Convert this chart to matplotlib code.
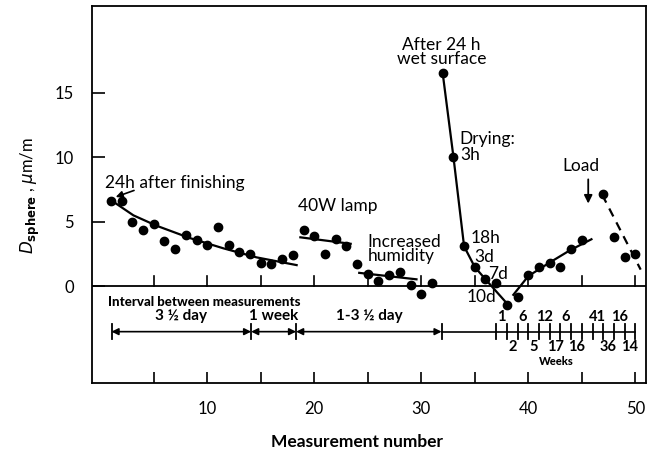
import matplotlib
matplotlib.use("Agg")
import matplotlib.pyplot as plt
import numpy as np

plt.rcParams['font.family'] = ['Lato', 'DejaVu Sans']

# ---- measured data ----
meas_x = [1, 2, 3, 4, 5, 6, 7, 8, 9, 10, 11, 12, 13, 14, 15, 16, 17, 18,
          19, 20, 21, 22, 23, 24, 25, 26, 27, 28, 29, 30, 31,
          32, 33, 34, 35, 36, 37, 38, 39, 40, 41, 42, 43, 44, 45,
          47, 48, 49, 50]
meas_y = [6.6, 6.6, 5.0, 4.4, 4.8, 3.5, 2.9, 4.0, 3.6, 3.2, 4.6, 3.2, 2.7, 2.5, 1.8, 1.7, 2.1, 2.4,
          4.4, 3.9, 2.5, 3.7, 3.1, 1.7, 1.0, 0.45, 0.9, 1.1, 0.1, -0.55, 0.25,
          16.5, 10.05, 3.1, 1.5, 0.55, 0.25, -1.45, -0.8, 0.9, 1.5, 1.85, 1.5, 2.9, 3.6,
          7.15, 3.8, 2.25, 2.5]

# trend curves
finish_x = [1.05, 3.1, 5.25, 8.35, 11.5, 14.6, 18.35]
finish_y = [6.65, 5.5, 4.7, 3.75, 2.95, 2.25, 1.65]
lamp_x = [18.7, 23.4]
lamp_y = [3.8, 3.3]
humid_x = [24.2, 29.55]
humid_y = [1.05, 0.55]
drying_x = [32, 33, 34, 35, 36, 38.2]
drying_y = [16.5, 10.05, 3.1, 1.5, 0.55, -1.5]
recover_x = [38.6, 40.0, 42.0, 43.9, 45.9]
recover_y = [-0.65, 0.8, 1.85, 2.8, 3.65]
load_x = [46.9, 50.5]
load_y = [7.1, 1.3]

# interval bar
interval_bounds = [1.05, 14.1, 18.3, 31.9]
interval_labels = ["3 \u00bd day", "1 week", "1-3 \u00bd day"]
week_ticks = list(range(37, 51))
weeks_top_pos = [37.5, 39.5, 41.5, 43.5, 46.5, 48.5]
weeks_top_lab = ["1", "6", "12", "6", "41", "16"]
weeks_bot_pos = [38.5, 40.5, 42.5, 44.5, 47.5, 49.5]
weeks_bot_lab = ["2", "5", "17", "16", "36", "14"]

fig = plt.figure(figsize=(6.49, 4.55), dpi=100)
ax = fig.add_axes([0.1413, 0.1589, 0.9954 - 0.1413, 0.9868 - 0.1589])
ax.set_xlim(-0.8, 51.0)
ax.set_ylim(-7.45, 21.7)

for s in ax.spines.values():
    s.set_linewidth(1.3)

ax.set_yticks([0, 5, 10, 15])
ax.set_xticks(np.arange(5, 51, 5))
ax.set_xticklabels(["" if v % 10 else str(v) for v in range(5, 51, 5)])
ax.tick_params(axis='y', direction='in', length=9, width=1.2, pad=13, labelsize=12)
ax.tick_params(axis='x', direction='in', length=8, width=1.2, pad=13, labelsize=12)

# zero line with upward ticks
ax.axhline(0, color='black', lw=1.3)
for t in np.arange(5, 51, 5):
    ax.plot([t, t], [0, 0.8], color='black', lw=1.2)

# data points
ax.plot(meas_x, meas_y, 'o', color='black', ms=6)

lw = 1.6
ax.plot(finish_x, finish_y, color='black', lw=lw)
ax.plot(lamp_x, lamp_y, color='black', lw=lw)
ax.plot(humid_x, humid_y, color='black', lw=lw)
ax.plot(drying_x, drying_y, color='black', lw=lw)
ax.plot(recover_x, recover_y, color='black', lw=lw)
ax.plot(load_x, load_y, color='black', lw=lw, linestyle=(0, (4, 3)))

fs = 12.5
ax.annotate("", xy=(1.2, 6.85), xytext=(3.4, 7.5),
            arrowprops=dict(arrowstyle='-|>', color='black', lw=1.2, mutation_scale=10))
ax.text(0.4, 8.0, "24h after finishing", fontsize=fs, va='center', ha='left')
ax.text(18.5, 6.2, "40W lamp", fontsize=fs, va='center', ha='left')
ax.text(25.0, 2.9, "Increased\nhumidity", fontsize=fs, va='center', ha='left', linespacing=0.9)
ax.text(31.9, 18.15, "After 24 h\nwet surface", fontsize=fs, va='center', ha='center', linespacing=0.9)
ax.text(33.6, 10.76, "Drying:\n3h", fontsize=fs, va='center', ha='left', linespacing=1.0)
ax.text(34.6, 3.75, "18h", fontsize=fs, va='center', ha='left')
ax.text(35.0, 2.3, "3d", fontsize=fs, va='center', ha='left')
ax.text(36.2, 1.0, "7d", fontsize=fs, va='center', ha='left')
ax.text(34.2, -0.8, "10d", fontsize=fs, va='center', ha='left')
ax.text(44.9, 9.3, "Load", fontsize=fs, va='center', ha='center')
ax.annotate("", xy=(45.6, 6.2), xytext=(45.6, 8.5),
            arrowprops=dict(arrowstyle='-|>', color='black', lw=1.3, mutation_scale=12))

# interval section
ybar = -3.5
ax.text(0.7, -1.18, "Interval between measurements", fontsize=9.5, fontweight='black',
        va='center', ha='left')
for i in range(len(interval_labels)):
    a, b = interval_bounds[i], interval_bounds[i + 1]
    ax.annotate("", xy=(a, ybar), xytext=(b, ybar),
                arrowprops=dict(arrowstyle='<|-|>', color='black', lw=1.2,
                                mutation_scale=10, shrinkA=0, shrinkB=0))
    ax.text((a + b) / 2, -2.3, interval_labels[i], fontsize=11, fontweight='bold',
            va='center', ha='center')
for b in interval_bounds:
    ax.plot([b, b], [ybar - 0.6, ybar + 0.6], color='black', lw=1.3)
ax.plot([interval_bounds[-1], week_ticks[-1]], [ybar, ybar], color='black', lw=1.2)
for t in week_ticks:
    ax.plot([t, t], [ybar - 0.6, ybar + 0.6], color='black', lw=1.3)
for p, l in zip(weeks_top_pos, weeks_top_lab):
    ax.text(p, -2.4, l, fontsize=10.5, fontweight='bold', va='center', ha='center')
for p, l in zip(weeks_bot_pos, weeks_bot_lab):
    ax.text(p, -4.66, l, fontsize=10.5, fontweight='bold', va='center', ha='center')
ax.text(42.6, -5.8, "Weeks", fontsize=8, fontweight='black', va='center', ha='center')

fig.text(357 / 649, 1 - 441.7 / 455, "Measurement number", fontsize=12.5, fontweight='bold',
         ha='center', va='center')
fig.text(30 / 649, 1 - 196 / 455, r"$D_{\mathbf{sphere}}$ , $\mu$m/m", fontsize=12,
         rotation=90, ha='center', va='center')

fig.savefig("out.png", dpi=100)
